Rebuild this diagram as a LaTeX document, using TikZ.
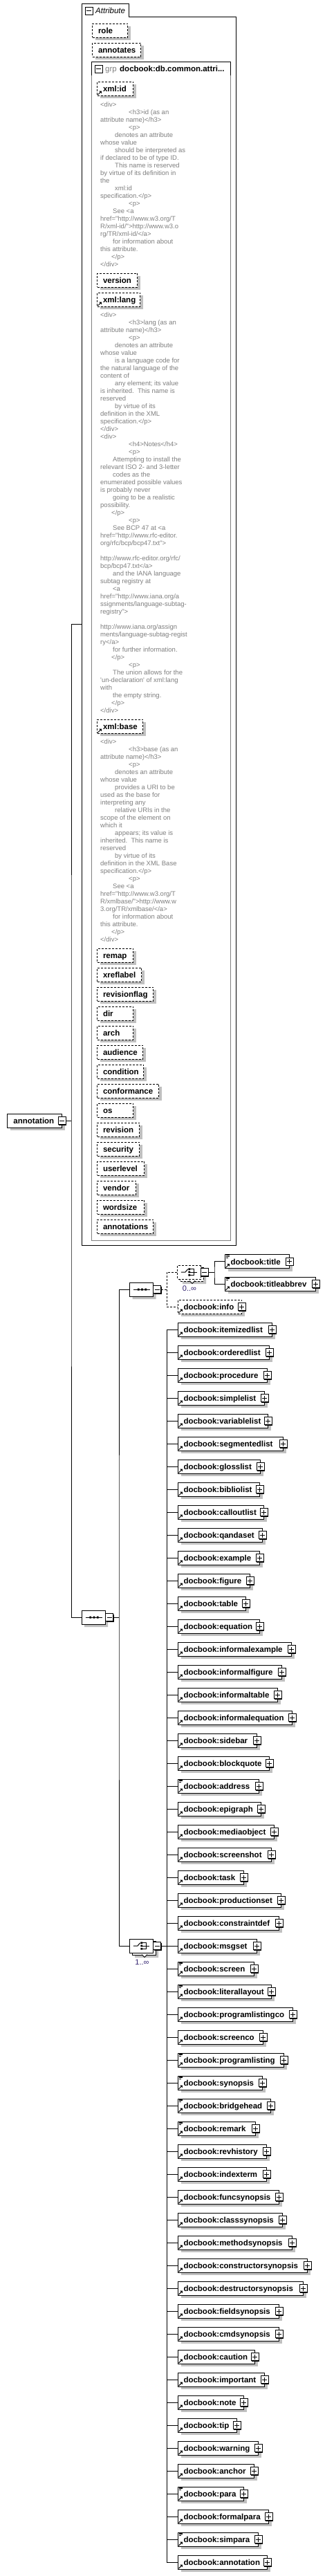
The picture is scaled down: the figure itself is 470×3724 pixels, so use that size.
\documentclass[tikz,border=0pt]{standalone}
\usepackage{fontspec}
\setmainfont{Liberation Sans}
\newfontfamily\docfont{Liberation Sans}[Ligatures=CommonOff]
\usetikzlibrary{shadows,shapes.misc}
\definecolor{shd}{RGB}{192,192,192}
\definecolor{grpgray}{RGB}{128,128,128}
\definecolor{doctext}{RGB}{128,128,128}
\definecolor{multcol}{RGB}{50,34,112}
\tikzset{
  conn/.style={line width=1pt},
  dconn/.style={line width=1pt, dash pattern=on 3pt off 2pt},
  shdw/.style={drop shadow={shadow xshift=4pt,shadow yshift=-4pt,fill=shd,opacity=1}},
  nmfont/.style={font=\fontsize{11.5pt}{13pt}\selectfont\bfseries},
  elbox/.style={draw, line width=1pt, fill=white, shdw, minimum height=20pt, inner ysep=0pt, inner xsep=8pt, anchor=west, align=left, nmfont, text height=9pt, text depth=0pt},
  attrbox/.style={elbox, dash pattern=on 3pt off 2pt, inner xsep=8.5pt},
  infobox/.style={elbox, dash pattern=on 3pt off 2pt},
  pmb/.style={draw, line width=1pt, fill=white, minimum size=11pt, inner sep=0pt, drop shadow={shadow xshift=1pt,shadow yshift=-1pt,fill=black,opacity=1}},
  plusb/.style={pmb, path picture={\draw[line width=1pt] ([xshift=-3.5pt]path picture bounding box.center) -- ([xshift=3.5pt]path picture bounding box.center) ([yshift=-3.5pt]path picture bounding box.center) -- ([yshift=3.5pt]path picture bounding box.center);}},
  minusb/.style={pmb, path picture={\draw[line width=1pt] ([xshift=-3.5pt]path picture bounding box.center) -- ([xshift=3.5pt]path picture bounding box.center);}},
  tabminus/.style={draw, line width=1pt, fill=white, minimum size=11pt, inner sep=0pt, path picture={\draw[line width=1pt] ([xshift=-3.5pt]path picture bounding box.center) -- ([xshift=3.5pt]path picture bounding box.center);}},
  oct/.style={chamfered rectangle, chamfered rectangle xsep=5pt, draw, line width=1pt, fill=white, minimum width=34pt, minimum height=20pt, inner sep=0pt},
  docl/.style={anchor=base west, inner sep=0pt, text=doctext, font=\docfont\fontsize{9.5pt}{11pt}\selectfont},
  mult/.style={inner sep=0pt, text=multcol, font=\fontsize{11pt}{13pt}\selectfont},
  refarrow/.pic={\fill (3.3,-6.8) -- (6.8,-6.8) -- (6.8,-3.3) -- cycle; \draw[line width=1pt] (1.5,-1.5) -- (5.3,-5.3);},
  mixedicon/.pic={\draw[line width=0.7pt] (1.5,1.6) -- (6.5,1.6) (1.5,3.3) -- (6.5,3.3) (1.5,5) -- (5,5);},
  seqicon/.pic={\draw[line width=1pt] (-11.5,0) -- (12.5,0);
     \fill (-5.65,-1.5) rectangle (-2.95,1.5) (-0.35,-1.5) rectangle (2.35,1.5) (4.95,-1.5) rectangle (7.65,1.5);},
  choiceicon/.pic={\draw[line width=1pt] (-11.7,0) -- (-5.5,0) -- (-1.8,-4.3);
     \fill (-1.2,-5.6) rectangle (1.5,-3) (-1.2,-1.3) rectangle (1.5,1.3) (-1.2,3) rectangle (1.5,5.6);
     \draw[line width=1pt] (1.5,-4.3) -- (7,-4.3) -- (7,4.3) -- (1.5,4.3) (1.5,0) -- (11.5,0);},
}
\newcommand\attrbx[5]{%
  \pgfmathsetmacro\tw{#5-#3-17}%
  \node[attrbox, text width=\tw pt] (#1) at (#3,#4+10) {\mbox{#2}};}
\newcommand\docln[2]{\node[docl] (\dname-\k) at (145+#1,\dbase+\k*11) {#2};}
\begin{document}
\begin{tikzpicture}[x=1pt,y=-1pt]
\fill[white] (0,0) rectangle (470,3724);
\useasboundingbox (0,0) rectangle (470,3724);

% ---------- Attribute container ----------
\node[inner sep=0pt, minimum width=223pt, minimum height=1795pt, anchor=north west] (attrall) at (118,5) {};
\draw[line width=1pt] (118,1800) -- (118,5) -- (186,5) -- (186,24) -- (341,24) -- (341,1800) -- cycle;
\node[tabminus] (attrpm) at (128.5,15.5) {};
\node[anchor=base west, inner sep=0pt, font=\fontsize{11.5pt}{13pt}\selectfont\itshape] (attrlbl) at (138,19.5) {Attribute};

\attrbx{role}{role}{133}{34}{184}
\attrbx{annotates}{annotates}{133}{62}{203}

% ---------- group ----------
\draw[grpgray, line width=1pt] (132,89) rectangle (333,1793);
\draw[line width=1pt] (132,109) -- (132,89) -- (333,89) -- (333,109);
\node[tabminus] (grppm) at (142.5,99.5) {};
\node[anchor=base west, inner sep=0pt, text=grpgray, font=\fontsize{11.5pt}{13pt}\selectfont] (grplbl) at (152,103) {grp};
\node[anchor=base west, inner sep=0pt, nmfont] (grpname) at (173,103) {docbook:db.common.attri...};

\attrbx{xmlid}{xml:id}{140}{118}{192}
\pic at (xmlid.south west) {refarrow};
\def\dname{docid}\def\dbase{154.5}
\foreach \ln [count=\k from 0] in {{0}{<div>},{41}{<h3>id (as an},{0}{attribute name)</h3>},{41}{<p>},{21}{denotes an attribute},{0}{whose value},{21}{should be interpreted as},{0}{if declared to be of type ID.},{21}{This name is reserved},{0}{by virtue of its definition in},{0}{the},{21}{xml:id},{0}{specification.</p>},{41}{<p>},{18}{See <a},{0}{href="http://www.w3.org/T},{0}{R/xml-id/">http://www.w3.o},{0}{rg/TR/xml-id/</a>},{18}{for information about},{0}{this attribute.},{16}{</p>},{0}{</div>}}{\expandafter\docln\ln}

\attrbx{version}{version}{140}{395}{198}
\attrbx{xmllang}{xml:lang}{140}{423}{202}
\pic at (xmllang.south west) {refarrow};
\def\dname{doclang}\def\dbase{458.5}
\foreach \ln [count=\k from 0] in {{0}{<div>},{41}{<h3>lang (as an},{0}{attribute name)</h3>},{41}{<p>},{21}{denotes an attribute},{0}{whose value},{21}{is a language code for},{0}{the natural language of the},{0}{content of},{21}{any element; its value},{0}{is inherited.\ \ This name is},{0}{reserved},{21}{by virtue of its},{0}{definition in the XML},{0}{specification.</p>},{0}{</div>},{0}{<div>},{41}{<h4>Notes</h4>},{41}{<p>},{18}{Attempting to install the},{0}{relevant ISO 2- and 3-letter},{18}{codes as the},{0}{enumerated possible values},{0}{is probably never},{18}{going to be a realistic},{0}{possibility.},{16}{</p>},{41}{<p>},{18}{See BCP 47 at <a},{0}{href="http://www.rfc-editor.},{0}{org/rfc/bcp/bcp47.txt">},{0}{},{0}{http://www.rfc-editor.org/rfc/},{0}{bcp/bcp47.txt</a>},{18}{and the IANA language},{0}{subtag registry at},{18}{<a},{0}{href="http://www.iana.org/a},{0}{ssignments/language-subtag-},{0}{registry">},{0}{},{0}{http://www.iana.org/assign},{0}{ments/language-subtag-regist},{0}{ry</a>},{18}{for further information.},{16}{</p>},{41}{<p>},{18}{The union allows for the},{0}{'un-declaration' of xml:lang},{0}{with},{18}{the empty string.},{16}{</p>},{0}{</div>}}{\expandafter\docln\ln}

\attrbx{xmlbase}{xml:base}{140}{1040}{206}
\pic at (xmlbase.south west) {refarrow};
\def\dname{docbase}\def\dbase{1075.5}
\foreach \ln [count=\k from 0] in {{0}{<div>},{41}{<h3>base (as an},{0}{attribute name)</h3>},{41}{<p>},{21}{denotes an attribute},{0}{whose value},{21}{provides a URI to be},{0}{used as the base for},{0}{interpreting any},{21}{relative URIs in the},{0}{scope of the element on},{0}{which it},{21}{appears; its value is},{0}{inherited.\ \ This name is},{0}{reserved},{21}{by virtue of its},{0}{definition in the XML Base},{0}{specification.</p>},{41}{<p>},{18}{See <a},{0}{href="http://www.w3.org/T},{0}{R/xmlbase/">http://www.w},{0}{3.org/TR/xmlbase/</a>},{18}{for information about},{0}{this attribute.},{16}{</p>},{0}{</div>}}{\expandafter\docln\ln}

\attrbx{remap}{remap}{140}{1371}{192}
\attrbx{xreflabel}{xreflabel}{140}{1399}{204}
\attrbx{revisionflag}{revisionflag}{140}{1427}{221}
\attrbx{dir}{dir}{140}{1455}{192}
\attrbx{arch}{arch}{140}{1483}{192}
\attrbx{audience}{audience}{140}{1511}{206}
\attrbx{condition}{condition}{140}{1539}{207}
\attrbx{conformance}{conformance}{140}{1567}{229}
\attrbx{os}{os}{140}{1595}{192}
\attrbx{revision}{revision}{140}{1623}{201}
\attrbx{security}{security}{140}{1651}{201}
\attrbx{userlevel}{userlevel}{140}{1679}{208}
\attrbx{vendor}{vendor}{140}{1707}{196}
\attrbx{wordsize}{wordsize}{140}{1735}{208}
\attrbx{annotations}{annotations}{140}{1763}{221}

% ---------- root ----------
\node[elbox, inner xsep=9pt, text width=61pt] (root) at (10,1620) {\mbox{annotation}};
\node[minusb] (rootpm) at ([xshift=-0.5pt]root.east) {};
\coordinate (rootbus) at (103,1620);
\draw[conn] (rootpm.east) -- (rootbus);

% ---------- main sequence ----------
\node[oct, shdw] (seqm) at (135,2338) {};
\pic at (seqm.center) {seqicon};
\node[minusb] (seqmpm) at (158,2338) {};
\coordinate (smbus) at (172,2338);
\draw[conn] (seqmpm.east) -- (smbus);
\draw[conn] (attrall.west) -| (rootbus) |- (seqm.west);

% ---------- first sequence ----------
\node[oct, shdw] (seq1) at (204.5,1864) {};
\pic at (seq1.center) {seqicon};
\node[minusb] (seq1pm) at (227,1864) {};
\coordinate (s1bus) at (241,1864);
\draw[dconn] (seq1pm.east) -- (s1bus);

% choice 0..inf
\node[oct, dash pattern=on 3pt off 2pt, shdw] (ch1b) at (277,1842) {};
\draw[line width=0.8pt, fill=white] (274,1851.5) -- (278,1855.5) -- (282,1851.5);
\node[oct, dash pattern=on 3pt off 2pt] (ch1) at (273.5,1839) {};
\pic at (ch1.center) {choiceicon};
\node[minusb] (ch1pm) at (295.5,1839) {};
\node[mult] (m1) at (274,1863) {0..∞};
\coordinate (c1bus) at (310,1839);
\draw[conn] (ch1pm.east) -- (c1bus);

\node[elbox, text width=77pt] (title) at (325,1823.5) {\mbox{docbook:title}};
\node[plusb] (titlepm) at ([xshift=-0.5pt]title.east) {};
\pic at (title.south west) {refarrow};
\pic at (title.north west) {mixedicon};
\node[elbox, text width=115pt] (titleabbrev) at (325,1856) {\mbox{docbook:titleabbrev}};
\node[plusb] (titleabbrevpm) at ([xshift=-0.5pt]titleabbrev.east) {};
\pic at (titleabbrev.south west) {refarrow};
\pic at (titleabbrev.north west) {mixedicon};
\draw[conn] (title.west) -| (c1bus) |- (titleabbrev.west);

\node[infobox, text width=76pt] (info) at (257,1889) {\mbox{docbook:info}};
\node[plusb] (infopm) at ([xshift=-0.5pt]info.east) {};
\pic at (info.south west) {refarrow};
\draw[dconn] (ch1.west) -| (s1bus) |- (info.west);

% ---------- choice 1..inf ----------
\node[oct, shdw] (ch2b) at (208,2816) {};
\draw[line width=0.8pt, fill=white] (205,2825.5) -- (209,2829.5) -- (213,2825.5);
\node[oct] (ch2) at (204.5,2813) {};
\pic at (ch2.center) {choiceicon};
\node[minusb] (ch2pm) at (227,2813) {};
\node[mult] (m2) at (205.5,2837) {1..∞};
\draw[conn] (seq1.west) -| (smbus) |- (ch2.west);

\foreach \nm/\r/\mx [count=\i from 0] in {itemizedlist/393/0,orderedlist/389/0,procedure/386/0,simplelist/382/0,variablelist/387/0,segmentedlist/409/0,glosslist/376/0,bibliolist/375/0,calloutlist/381/0,qandaset/379/0,example/375/0,figure/361/0,table/355/0,equation/375/0,informalexample/421/0,informalfigure/407/0,informaltable/401/0,informalequation/422/0,sidebar/371/0,blockquote/389/0,address/374/1,epigraph/377/0,mediaobject/396/0,screenshot/392/0,task/352/0,productionset/406/0,constraintdef/403/0,msgset/371/0,screen/367/1,literallayout/392/1,programlistingco/423/0,screenco/380/0,programlisting/410/1,synopsis/379/1,bridgehead/391/1,remark/369/1,revhistory/385/0,indexterm/385/0,funcsynopsis/403/0,classsynopsis/408/0,methodsynopsis/422/0,constructorsynopsis/444/0,destructorsynopsis/438/0,fieldsynopsis/403/0,cmdsynopsis/403/0,caution/368/0,important/382/0,note/352/0,tip/342/0,warning/373/0,anchor/367/0,para/352/1,formalpara/388/0,simpara/373/1,annotation/386/0}{
  \pgfmathsetmacro\cy{1922+\i*33}
  \pgfmathsetmacro\tw{\r-257-16}
  \node[elbox, text width=\tw pt] (c-\nm) at (257,\cy) {\mbox{docbook:\nm}};
  \node[plusb] (p-\nm) at ([xshift=-0.5pt]c-\nm.east) {};
  \pic at (c-\nm.south west) {refarrow};
  \ifnum\mx=1 \pic at (c-\nm.north west) {mixedicon};\fi
  \coordinate (bus-\i) at (241,\cy);
  \draw[conn] (bus-\i) -- (c-\nm.west);
}
\draw[conn] (bus-0) -- (bus-54);
\draw[conn] (ch2pm.east) -- (bus-27);
\end{tikzpicture}
\end{document}
